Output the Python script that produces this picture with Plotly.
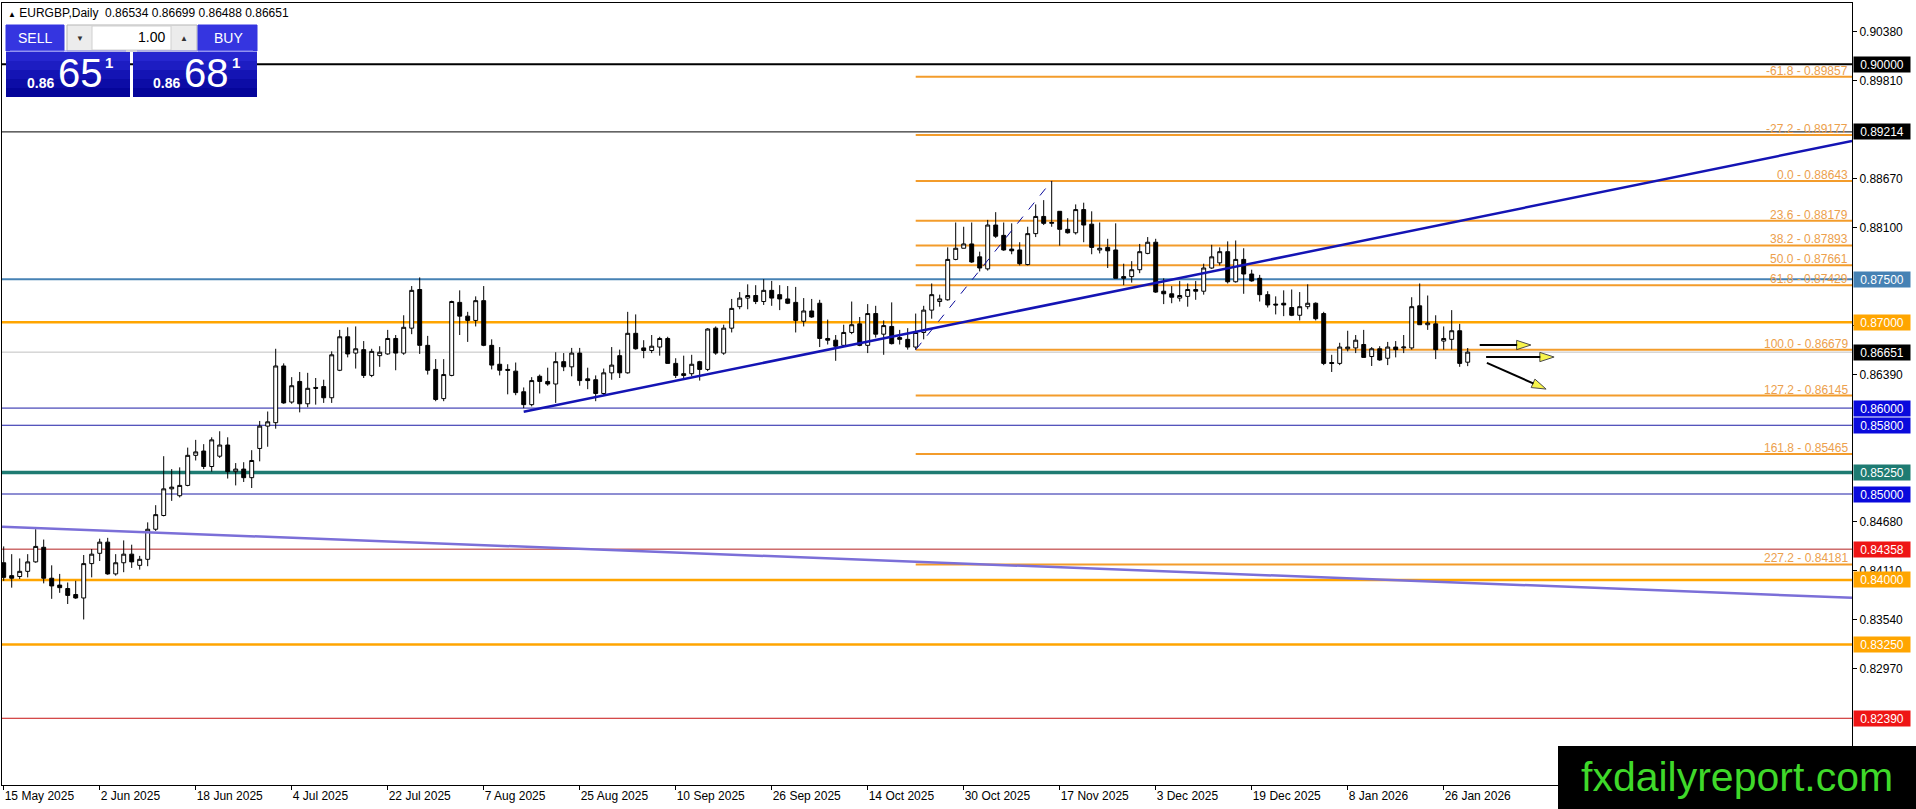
import math
import plotly.graph_objects as go

# EURGBP daily bars, index 0 = 15 May 2025 (one bar per trading day)
opens = [0.8420, 0.8405, 0.8404, 0.8410, 0.8421, 0.8438, 0.8402, 0.8394, 0.8390, 0.8383,
         0.8379, 0.8419, 0.8431, 0.8444, 0.8407, 0.8420, 0.8430, 0.8417, 0.8424, 0.8459,
         0.8475, 0.8506, 0.8498, 0.8510, 0.8545, 0.8550, 0.8532, 0.8544, 0.8557, 0.8526,
         0.8529, 0.8519, 0.8553, 0.8579, 0.8583, 0.8649, 0.8607, 0.8631, 0.8605, 0.8624,
         0.8625, 0.8612, 0.8644, 0.8683, 0.8664, 0.8668, 0.8638, 0.8661, 0.8663, 0.8681,
         0.8664, 0.8693, 0.8738, 0.8673, 0.8645, 0.8611, 0.8638, 0.8723, 0.8707, 0.8702,
         0.8725, 0.8673, 0.8651, 0.8645, 0.8643, 0.8619, 0.8604, 0.8637, 0.8631, 0.8628,
         0.8654, 0.8648, 0.8664, 0.8634, 0.8633, 0.8617, 0.8641, 0.8661, 0.8641, 0.8687,
         0.8670, 0.8667, 0.8671, 0.8681, 0.8652, 0.8640, 0.8640, 0.8654, 0.8645, 0.8693,
         0.8664, 0.8693, 0.8718, 0.8728, 0.8731, 0.8724, 0.8737, 0.8732, 0.8727, 0.8723,
         0.8701, 0.8713, 0.8722, 0.8681, 0.8679, 0.8673, 0.8688, 0.8698, 0.8673, 0.8710,
         0.8686, 0.8695, 0.8682, 0.8680, 0.8671, 0.8688, 0.8714, 0.8724, 0.8726, 0.8773,
         0.8786, 0.8791, 0.8776, 0.8762, 0.8813, 0.8801, 0.8785, 0.8784, 0.8767, 0.8803,
         0.8823, 0.8815, 0.8829, 0.8808, 0.8804, 0.8831, 0.8814, 0.8784, 0.8787, 0.8784,
         0.8753, 0.8753, 0.8761, 0.8780, 0.8793, 0.8736, 0.8733, 0.8728, 0.8730, 0.8738,
         0.8736, 0.8763, 0.8769, 0.8782, 0.8747, 0.8773, 0.8756, 0.8751, 0.8732, 0.8721,
         0.8722, 0.8717, 0.8708, 0.8718, 0.8722, 0.8710, 0.8653, 0.8652, 0.8669, 0.8670,
         0.8674, 0.8660, 0.8669, 0.8658, 0.8671, 0.8670, 0.8670, 0.8719, 0.8697, 0.8698,
         0.8678, 0.8680, 0.8690, 0.86534]
highs = [0.8439, 0.8430, 0.8425, 0.8430, 0.8459, 0.8447, 0.8417, 0.8407, 0.8397, 0.8399,
         0.8429, 0.8436, 0.8448, 0.8449, 0.8430, 0.8446, 0.8441, 0.8428, 0.8467, 0.8487,
         0.8544, 0.8529, 0.8531, 0.8554, 0.8563, 0.8558, 0.8566, 0.8573, 0.8566, 0.8536,
         0.8537, 0.8551, 0.8585, 0.8596, 0.8669, 0.8652, 0.8636, 0.8642, 0.8641, 0.8635,
         0.8633, 0.8666, 0.8691, 0.8694, 0.8695, 0.8678, 0.8669, 0.8672, 0.8691, 0.8685,
         0.8708, 0.8742, 0.8752, 0.8684, 0.8657, 0.8657, 0.8725, 0.8737, 0.8712, 0.8730,
         0.8742, 0.8680, 0.8671, 0.8651, 0.8653, 0.8624, 0.8636, 0.8639, 0.8647, 0.8665,
         0.8664, 0.8670, 0.8670, 0.8647, 0.8638, 0.8646, 0.8671, 0.8668, 0.8712, 0.8709,
         0.8679, 0.8685, 0.8683, 0.8683, 0.8658, 0.8661, 0.8662, 0.8655, 0.8693, 0.8695,
         0.8697, 0.8727, 0.8735, 0.8744, 0.8743, 0.8750, 0.8748, 0.8743, 0.8742, 0.8741,
         0.8728, 0.8727, 0.8726, 0.8703, 0.8685, 0.8697, 0.8724, 0.8706, 0.8721, 0.8719,
         0.8702, 0.8723, 0.8691, 0.8693, 0.8710, 0.8719, 0.8745, 0.8732, 0.8787, 0.8816,
         0.8811, 0.8816, 0.8782, 0.8819, 0.8828, 0.8816, 0.8815, 0.8793, 0.8811, 0.8837,
         0.8842, 0.88643, 0.8829, 0.8821, 0.8837, 0.8839, 0.8829, 0.8816, 0.8797, 0.8815,
         0.8768, 0.8771, 0.8791, 0.8799, 0.8797, 0.8751, 0.8742, 0.8748, 0.8745, 0.8748,
         0.8768, 0.8790, 0.8787, 0.8794, 0.8795, 0.8786, 0.8761, 0.8755, 0.8736, 0.8730,
         0.8737, 0.8738, 0.8735, 0.8744, 0.8723, 0.8712, 0.8662, 0.8676, 0.8690, 0.8685,
         0.8691, 0.8671, 0.8672, 0.8677, 0.8678, 0.8685, 0.8729, 0.8745, 0.8731, 0.8708,
         0.8695, 0.8714, 0.8698, 0.86699]
lows = [0.8399, 0.8391, 0.8401, 0.8403, 0.8420, 0.8396, 0.8378, 0.8385, 0.8372, 0.8378,
        0.8354, 0.8403, 0.8422, 0.8406, 0.8405, 0.8409, 0.8414, 0.8412, 0.8416, 0.8457,
        0.8474, 0.8492, 0.8496, 0.8509, 0.8539, 0.8529, 0.8526, 0.8542, 0.8518, 0.8510,
        0.8514, 0.8507, 0.8538, 0.8555, 0.8576, 0.8605, 0.8605, 0.8595, 0.8601, 0.8604,
        0.8606, 0.8606, 0.8643, 0.8659, 0.8646, 0.8635, 0.8636, 0.8648, 0.8662, 0.8644,
        0.8662, 0.8686, 0.8663, 0.8639, 0.8608, 0.8608, 0.8637, 0.8685, 0.8677, 0.8695,
        0.8672, 0.8645, 0.8638, 0.8616, 0.8615, 0.8600, 0.8602, 0.8617, 0.8626, 0.8606,
        0.8643, 0.8637, 0.8626, 0.8622, 0.8608, 0.8614, 0.8633, 0.8635, 0.8640, 0.8668,
        0.8658, 0.8664, 0.8661, 0.8652, 0.8635, 0.8633, 0.8637, 0.8632, 0.8643, 0.8662,
        0.8662, 0.8688, 0.8715, 0.8715, 0.8721, 0.8720, 0.8719, 0.8714, 0.8721, 0.8688,
        0.8695, 0.8705, 0.8671, 0.8674, 0.8655, 0.8672, 0.8686, 0.8672, 0.8664, 0.8682,
        0.8662, 0.8674, 0.8674, 0.8668, 0.86679, 0.8680, 0.8704, 0.8718, 0.8725, 0.8772,
        0.8786, 0.8769, 0.8759, 0.8760, 0.8798, 0.8783, 0.8779, 0.8766, 0.8766, 0.8799,
        0.8813, 0.8811, 0.8789, 0.8803, 0.8802, 0.8793, 0.8779, 0.8780, 0.8763, 0.8751,
        0.8743, 0.8746, 0.8757, 0.8779, 0.8734, 0.8721, 0.8722, 0.8724, 0.8718, 0.8726,
        0.8732, 0.8762, 0.8766, 0.8745, 0.8746, 0.8733, 0.8747, 0.8724, 0.8717, 0.8709,
        0.8707, 0.8707, 0.8702, 0.8715, 0.8702, 0.8650, 0.8642, 0.8650, 0.8666, 0.8664,
        0.8659, 0.8649, 0.8655, 0.8650, 0.8659, 0.8664, 0.8668, 0.8697, 0.8691, 0.8657,
        0.8668, 0.8668, 0.8648, 0.86488]
closes = [0.8403, 0.8402, 0.8410, 0.8421, 0.8439, 0.8402, 0.8393, 0.8391, 0.8382, 0.8379,
          0.8419, 0.8430, 0.8444, 0.8407, 0.8420, 0.8430, 0.8421, 0.8424, 0.8459, 0.8476,
          0.8506, 0.8508, 0.8510, 0.8545, 0.8549, 0.8532, 0.8563, 0.8557, 0.8526, 0.8529,
          0.8519, 0.8539, 0.8579, 0.8584, 0.8649, 0.8606, 0.8626, 0.8605, 0.8623, 0.8623,
          0.8612, 0.8662, 0.8683, 0.8663, 0.8669, 0.8638, 0.8666, 0.8665, 0.8681, 0.8664,
          0.8694, 0.8737, 0.8673, 0.8644, 0.8610, 0.8639, 0.8724, 0.8707, 0.8702, 0.8725,
          0.8673, 0.8650, 0.8644, 0.8644, 0.8618, 0.8604, 0.8632, 0.8631, 0.8628, 0.8654,
          0.8648, 0.8664, 0.8632, 0.8632, 0.8617, 0.8641, 0.8650, 0.8641, 0.8687, 0.8669,
          0.8667, 0.8672, 0.8681, 0.8652, 0.8638, 0.8638, 0.8651, 0.8645, 0.8692, 0.8664,
          0.8693, 0.8716, 0.8728, 0.8731, 0.8724, 0.8737, 0.8728, 0.8727, 0.8722, 0.8702,
          0.8713, 0.8706, 0.8681, 0.8679, 0.8672, 0.8688, 0.8697, 0.8673, 0.8710, 0.8686,
          0.8696, 0.8675, 0.8680, 0.8671, 0.8688, 0.8714, 0.8732, 0.8727, 0.8773, 0.8786,
          0.8791, 0.8770, 0.8763, 0.8813, 0.8800, 0.8784, 0.8783, 0.8768, 0.8803, 0.8823,
          0.8815, 0.8816, 0.8808, 0.8804, 0.8831, 0.8813, 0.8787, 0.8786, 0.8783, 0.8751,
          0.8751, 0.8761, 0.8782, 0.8793, 0.8735, 0.8733, 0.8729, 0.8731, 0.8738, 0.8736,
          0.8763, 0.8776, 0.8782, 0.8747, 0.8773, 0.8756, 0.8748, 0.8732, 0.8720, 0.8720,
          0.8720, 0.8708, 0.8718, 0.8722, 0.8704, 0.8652, 0.8652, 0.8671, 0.8671, 0.8679,
          0.8659, 0.8669, 0.8656, 0.8671, 0.8668, 0.8671, 0.8718, 0.8697, 0.8699, 0.8668,
          0.8681, 0.8690, 0.8652, 0.86651]

date_ticks = [0, 12, 24, 36, 48, 60, 72, 84, 96, 108, 120, 132, 144, 156, 168, 180]
date_labels = ["15 May 2025", "2 Jun 2025", "18 Jun 2025", "4 Jul 2025", "22 Jul 2025",
               "7 Aug 2025", "25 Aug 2025", "10 Sep 2025", "26 Sep 2025", "14 Oct 2025",
               "30 Oct 2025", "17 Nov 2025", "3 Dec 2025", "19 Dec 2025", "8 Jan 2026",
               "26 Jan 2026"]

price_ticks = [0.90380, 0.89810, 0.88670, 0.88100, 0.86960, 0.86390,
               0.84680, 0.84110, 0.83540, 0.82970]

# horizontal support / resistance levels
level_prices = [0.90000, 0.89214, 0.87500, 0.87000, 0.86000, 0.85800,
                0.85250, 0.85000, 0.84358, 0.84000, 0.83250, 0.82390]
last_price = 0.86651

# fibonacci levels drawn from bar 114 onwards
fib_ratios = ["-61.8", "-27.2", "0.0", "23.6", "38.2", "50.0", "61.8",
              "100.0", "127.2", "161.8", "227.2"]
fib_prices = [0.89857, 0.89177, 0.88643, 0.88179, 0.87893, 0.87661, 0.87429,
              0.86679, 0.86145, 0.85465, 0.84181]
fib_start = 114
fib_anchor_x = [114, 131]
fib_anchor_y = [0.86679, 0.88643]

# trend lines
trend_up_x = [65, 231.04]
trend_up_y = [0.85958, 0.89108]
trend_down_x = [-0.21, 231.04]
trend_down_y = [0.84620, 0.83793]

# projection arrows (start, head)
arrow_x0 = [184.5, 185.3, 185.4]
arrow_y0 = [0.86734, 0.86594, 0.86525]
arrow_x1 = [190.9, 193.8, 192.8]
arrow_y1 = [0.86734, 0.86594, 0.86221]

FONT = "Tahoma, Liberation Sans, Arial"
X_RANGE = [-0.2125, 231.0375]
Y_RANGE = [0.816136, 0.907140]


def px2x(x):
    return (x - 2) / 1850


def px2y(y):
    return (785 - y) / 782


fig = go.Figure()

# trend lines under the candles
fig.add_trace(go.Scatter(x=trend_down_x, y=trend_down_y, mode="lines",
                         line=dict(color="#7b6fd8", width=2.5), hoverinfo="skip"))

shapes = []
level_style = [("black", 2), ("black", 1), ("#4682b4", 2), ("#ffa500", 2.5),
               ("#1c1ca6", 1), ("#1c1ca6", 1), ("#1e7b72", 3.5), ("#1c1ca6", 1),
               ("#b42222", 1), ("#ffa500", 2.5), ("#ffa500", 2.5), ("#c81414", 1)]
label_bg = ["black", "black", "#4682b4", "#ffa500", "#0a0adc", "#0a0adc",
            "#1e7b72", "#0a0adc", "#ee1515", "#ffa500", "#ffa500", "#ee1515"]
for p, (col, w) in zip(level_prices, level_style):
    shapes.append(dict(type="line", xref="x", yref="y", x0=X_RANGE[0], x1=X_RANGE[1],
                       y0=p, y1=p, line=dict(color=col, width=w), layer="below"))
shapes.append(dict(type="line", xref="x", yref="y", x0=X_RANGE[0], x1=X_RANGE[1],
                   y0=last_price, y1=last_price, line=dict(color="#c0c0c0", width=1),
                   layer="below"))
for p in fib_prices:
    shapes.append(dict(type="line", xref="x", yref="y", x0=fib_start, x1=X_RANGE[1],
                       y0=p, y1=p, line=dict(color="#f39c2b", width=2), layer="below"))

fig.add_trace(go.Scatter(x=fib_anchor_x, y=fib_anchor_y, mode="lines",
                         line=dict(color="#0a0a9a", width=1, dash="dash"), hoverinfo="skip"))
fig.add_trace(go.Scatter(x=trend_up_x, y=trend_up_y, mode="lines",
                         line=dict(color="#1414b4", width=2.5), hoverinfo="skip"))

fig.add_trace(go.Candlestick(
    x=list(range(len(opens))), open=opens, high=highs, low=lows, close=closes,
    increasing=dict(fillcolor="white", line=dict(color="black", width=1)),
    decreasing=dict(fillcolor="black", line=dict(color="black", width=1)),
    whiskerwidth=0, hoverinfo="skip"))

# arrows
for xa, ya, xb, yb in zip(arrow_x0, arrow_y0, arrow_x1, arrow_y1):
    fig.add_trace(go.Scatter(
        x=[xa, xb], y=[ya, yb], mode="lines+markers",
        line=dict(color="black", width=2),
        marker=dict(symbol="arrow", size=[0, 15], angleref="previous",
                    color="#f5f000", line=dict(color="black", width=1)),
        hoverinfo="skip"))

annotations = []
# right-hand price boxes
for p, bg in zip(level_prices + [last_price], label_bg + ["black"]):
    annotations.append(dict(xref="paper", yref="y", x=px2x(1853), y=p, xanchor="left",
                            yanchor="middle", text=f"{p:.5f}", showarrow=False,
                            bgcolor=bg, width=54, height=13, borderpad=1,
                            font=dict(family=FONT, size=12, color="white")))
# fibonacci labels
for r, p in zip(fib_ratios, fib_prices):
    annotations.append(dict(xref="paper", yref="y", x=px2x(1850), y=p, xanchor="right",
                            yanchor="bottom", yshift=-3, text=f"{r} - {p:.5f}",
                            showarrow=False,
                            font=dict(family=FONT, size=12, color="#eca04c")))

# header line
annotations.append(dict(xref="paper", yref="paper", x=px2x(6), y=px2y(13), xanchor="left",
                        yanchor="middle", showarrow=False,
                        text="<span style='font-size:8px'>▲</span> EURGBP,Daily  "
                             "0.86534 0.86699 0.86488 0.86651",
                        font=dict(family=FONT, size=12, color="black")))

# one-click trading panel
panel = [((6, 25, 64, 51), "#3535e0", None),
         ((67, 25, 197, 51), "#ececec", "#b5b5b5"),
         ((92, 26, 171, 50), "white", "#d0d0d0"),
         ((198, 25, 257, 51), "#3535e0", None)]
for (x0, y0, x1, y1), fill, edge in panel:
    shapes.append(dict(type="rect", xref="paper", yref="paper", x0=px2x(x0), x1=px2x(x1),
                       y0=px2y(y0), y1=px2y(y1), fillcolor=fill, layer="above",
                       line=dict(color=edge or fill, width=1)))
band_cols = ["#2626cf", "#1d1dc2", "#1414b4", "#0c0ca6", "#05059a"]
for bx0, bx1 in [(6, 130), (133, 257)]:
    for k, col in enumerate(band_cols):
        y0 = 52 + k * 9
        shapes.append(dict(type="rect", xref="paper", yref="paper", x0=px2x(bx0),
                           x1=px2x(bx1), y0=px2y(y0), y1=px2y(y0 + 9), fillcolor=col,
                           layer="above", line=dict(width=0)))
    shapes.append(dict(type="line", xref="paper", yref="paper", x0=px2x(bx0 + 4),
                       x1=px2x(bx1 - 4), y0=px2y(51), y1=px2y(51), layer="above",
                       line=dict(color="#8c8cf0", width=1)))


def panel_text(x, y, text, size, color="white", anchor="center"):
    annotations.append(dict(xref="paper", yref="paper", x=px2x(x), y=px2y(y),
                            xanchor=anchor, yanchor="middle", text=text, showarrow=False,
                            font=dict(family=FONT, size=size, color=color)))


panel_text(35, 38, "SELL", 14)
panel_text(228, 38, "BUY", 14)
panel_text(80, 38, "▼", 8, "#333333")
panel_text(184, 38, "▲", 8, "#333333")
panel_text(167, 37, "1.00", 14, "black", "right")
panel_text(40, 83, "<b>0.86</b>", 14)
panel_text(80, 73, "65", 40)
panel_text(109, 63, "<b>1</b>", 15)
panel_text(166, 83, "<b>0.86</b>", 14)
panel_text(206, 73, "68", 40)
panel_text(236, 63, "<b>1</b>", 15)

# watermark
shapes.append(dict(type="rect", xref="paper", yref="paper", x0=px2x(1558), x1=px2x(1918),
                   y0=px2y(746), y1=px2y(811), fillcolor="black", layer="above",
                   line=dict(width=0)))
annotations.append(dict(xref="paper", yref="paper", x=px2x(1737), y=px2y(777),
                        xanchor="center", yanchor="middle", text="fxdailyreport.com",
                        showarrow=False,
                        font=dict(family="Liberation Sans, Arial", size=41, color="#3fd92a")))

fig.update_layout(
    width=1916, height=809,
    margin=dict(l=2, r=64, t=3, b=24),
    plot_bgcolor="white", paper_bgcolor="white",
    showlegend=False,
    shapes=shapes, annotations=annotations,
    font=dict(family=FONT, size=12, color="black"),
    xaxis=dict(range=X_RANGE, tickmode="array", tickvals=date_ticks, ticktext=date_labels,
               ticks="outside", ticklen=4, tickcolor="black", ticklabelposition="outside right",
               showgrid=False, zeroline=False, showline=True, linecolor="black",
               linewidth=1, mirror=True, rangeslider=dict(visible=False),
               tickfont=dict(family=FONT, size=12, color="black")),
    yaxis=dict(range=Y_RANGE, side="right", tickmode="array", tickvals=price_ticks,
               ticktext=[f"{v:.5f}" for v in price_ticks], ticks="outside", ticklen=4,
               tickcolor="black", showgrid=False, zeroline=False, showline=True,
               linecolor="black", linewidth=1, mirror=True,
               tickfont=dict(family=FONT, size=12, color="black")),
)

fig.write_html("out.html", config={"displayModeBar": False},
               post_script="document.body.style.margin='0';")
